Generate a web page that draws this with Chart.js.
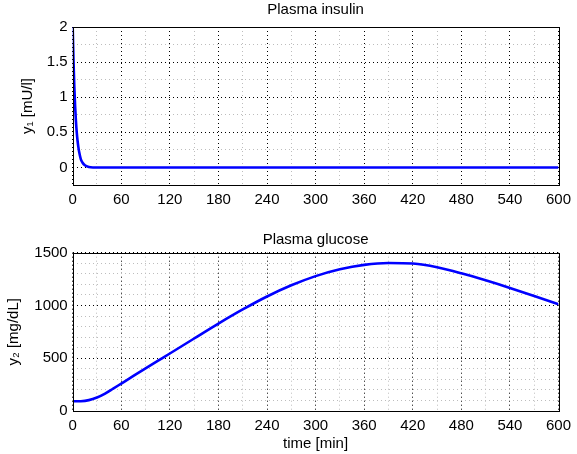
<!DOCTYPE html>
<html>
<head>
<meta charset="utf-8">
<script src="https://cdn.jsdelivr.net/npm/chart.js@4/dist/chart.umd.min.js"></script>
<style>
  html, body { margin: 0; padding: 0; background: #fff; }
  #wrap { position: relative; width: 577px; height: 454px; }
  .c { position: absolute; left: 0; }
</style>
</head>
<body>
<div id="wrap">
  <div class="c" style="top:0;width:577px;height:230px"><canvas id="top"></canvas></div>
  <div class="c" style="top:230px;width:577px;height:224px"><canvas id="bot"></canvas></div>
</div>
<script>
// ---- data ----
const insulinTime   = [0, 1, 2, 3, 4, 5, 6, 7, 8, 10, 12, 15, 20, 25, 30, 60, 120, 240, 360, 480, 600];
const insulinValues = [2.0, 1.52, 1.15, 0.87, 0.66, 0.5, 0.38, 0.29, 0.22, 0.12, 0.07, 0.03, 0.005, 0, 0, 0, 0, 0, 0, 0, 0];
const glucoseTime   = [0, 10, 20, 30, 40, 50, 60, 75, 90, 105, 120, 150, 180, 210, 240, 270, 300, 330, 360, 390, 420, 450, 480, 510, 540, 570, 600];
const glucoseValues = [92, 93, 103, 128, 165, 212, 260, 332, 403, 474, 545, 687, 828, 962, 1085, 1191, 1278, 1343, 1385, 1403, 1397, 1362, 1305, 1238, 1166, 1090, 1012];
const xTicks = [0, 60, 120, 180, 240, 300, 360, 420, 480, 540, 600];
const insulinTicks = [0, 0.5, 1, 1.5, 2];
const glucoseTicks = [0, 500, 1000, 1500];
const titles = ["Plasma insulin", "Plasma glucose"];
const yLabels = ["y\u2081 [mU/l]", "y\u2082 [mg/dL]"];
const xLabel = "time [min]";

const FONT = '"Liberation Sans", Arial, Helvetica, sans-serif';
Chart.defaults.font.family = FONT;
Chart.defaults.font.size = 15;
Chart.defaults.color = '#000';

function pts(xs, ys) { return xs.map((x, i) => ({x: x, y: ys[i]})); }

const boxAndTitle = {
  id: 'boxAndTitle',
  afterDraw(chart, args, opts) {
    const {ctx, chartArea: a} = chart;
    ctx.save();
    ctx.strokeStyle = '#000';
    ctx.lineWidth = 1;
    ctx.strokeRect(Math.round(a.left) + 0.5, Math.round(a.top) + 0.5,
                   Math.round(a.right - a.left), Math.round(a.bottom - a.top));
    ctx.fillStyle = '#000';
    ctx.font = '15px ' + FONT;
    ctx.textAlign = 'center';
    ctx.textBaseline = 'middle';
    ctx.fillText(opts.text, (a.left + a.right) / 2, opts.y);
    ctx.restore();
  }
};

function makeChart(id, xs, ys, yMin, yMax, yStep, yTicks, title, yTitle, yTitlePad, showXTitle, padTop, xHeight) {
  return new Chart(document.getElementById(id), {
    type: 'line',
    data: { datasets: [{
      data: pts(xs, ys),
      borderColor: '#0000ff',
      borderWidth: 2.6,
      pointRadius: 0,
      cubicInterpolationMode: 'monotone',
      fill: false
    }]},
    options: {
      responsive: true,
      maintainAspectRatio: false,
      animation: false,
      events: [],
      layout: { padding: { left: 0, right: 13, top: padTop, bottom: 0 } },
      plugins: {
        legend: { display: false },
        tooltip: { enabled: false },
        boxAndTitle: { text: title, y: 10 }
      },
      scales: {
        x: {
          type: 'linear', min: 0, max: 600,
          afterBuildTicks: s => { s.ticks = []; for (let v = 0; v <= 600; v += 30) s.ticks.push({value: v}); },
          afterFit: s => { s.height = xHeight; },
          ticks: {
            autoSkip: false, maxRotation: 0, padding: 6,
            callback: v => (xTicks.includes(v) ? String(v) : '')
          },
          grid: {
            drawTicks: false,
            lineWidth: 1,
            color: c => (c.tick && xTicks.includes(c.tick.value)) ? '#000' : '#bdbdbd'
          },
          border: { display: false, dash: [1, 3] },
          title: { display: showXTitle, text: xLabel, padding: { top: 0, bottom: 1 } }
        },
        y: {
          type: 'linear', min: yMin, max: yMax,
          afterBuildTicks: s => { s.ticks = []; for (let k = 0; yMin + k * yStep <= yMax + 1e-9; k++) s.ticks.push({value: +(yMin + k * yStep).toFixed(4)}); },
          afterFit: s => { s.width = 72.7; },
          ticks: {
            autoSkip: false, padding: 5,
            callback: v => (yTicks.includes(v) ? String(v) : '')
          },
          grid: {
            drawTicks: false,
            lineWidth: 1,
            color: c => (c.tick && yTicks.includes(c.tick.value)) ? '#000' : '#bdbdbd'
          },
          border: { display: false, dash: [1, 3] },
          title: { display: true, text: yTitle, padding: { top: yTitlePad, bottom: 0 } }
        }
      }
    },
    plugins: [boxAndTitle]
  });
}

makeChart('top', insulinTime, insulinValues, -0.25, 2, 0.25, insulinTicks, titles[0], yLabels[0], 19, false, 27, 45);
makeChart('bot', glucoseTime, glucoseValues, 0, 1500, 100, glucoseTicks, titles[1], yLabels[1], 5, true, 22.7, 43);
</script>
</body>
</html>
